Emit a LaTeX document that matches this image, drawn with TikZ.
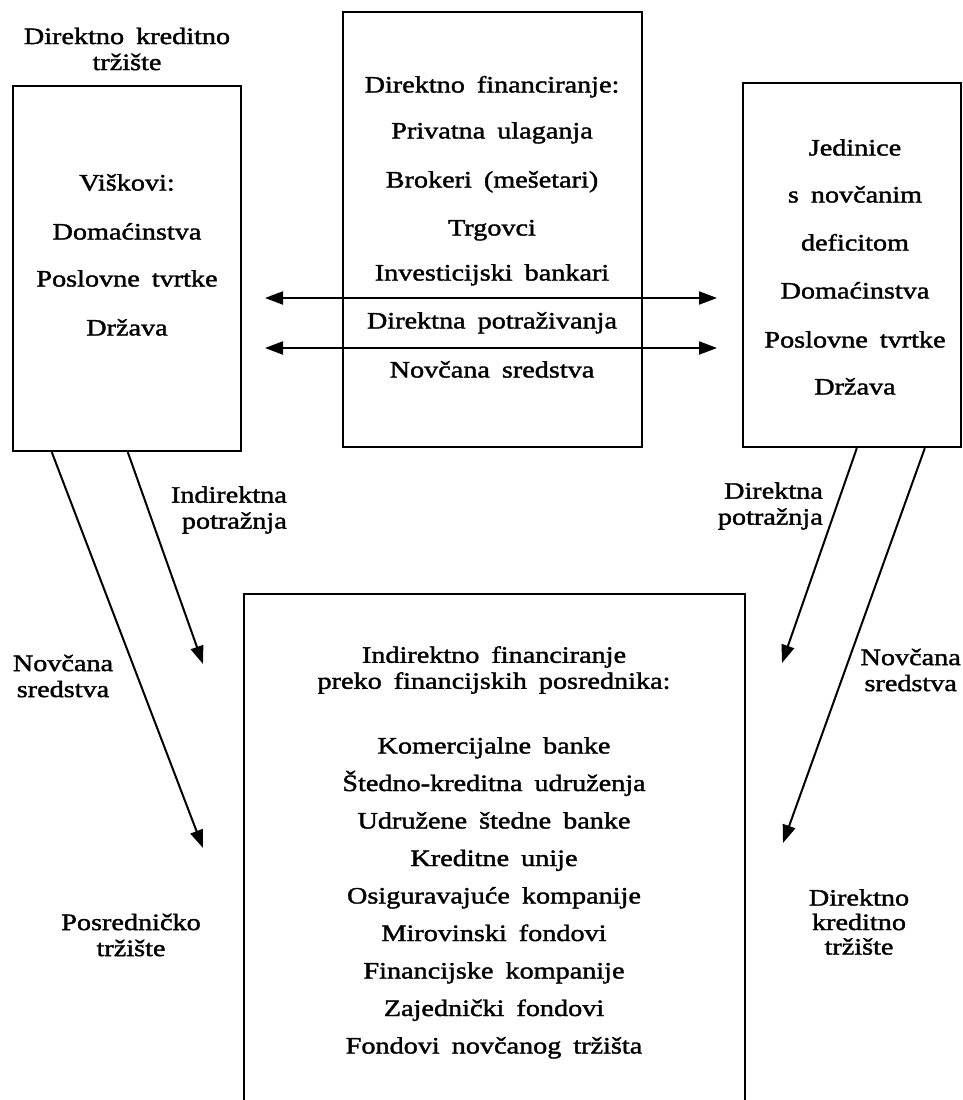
\documentclass[tikz,border=0pt]{standalone}
\usepackage{fontspec}
\setmainfont{Liberation Serif}[FakeStretch=1.2,WordSpace=1.7,FakeBold=1.6]
\usetikzlibrary{arrows.meta}

\begin{document}
\begin{tikzpicture}[x=1pt,y=-1pt,
  font=\fontsize{23.5}{26}\selectfont,
  box/.style={draw, line width=2.4pt, inner sep=0pt},
  txt/.style={inner sep=0pt, text height=16pt, text depth=5pt},
  lbl/.style={inner sep=0pt, align=center},
  arr/.style={line width=2pt, -{Triangle[length=18pt,width=13pt]}},
  darr/.style={line width=2pt, {Triangle[length=18pt,width=13pt]}-{Triangle[length=18pt,width=13pt]}}]
  \useasboundingbox (0,0) rectangle (963,1100);
  \clip (0,0) rectangle (963,1100);

  % Boxes
  \node[box, minimum width=228pt, minimum height=365pt] (surplus) at (127,268.5) {};
  \node[box, minimum width=299pt, minimum height=435pt] (direct) at (492.5,229.5) {};
  \node[box, minimum width=218pt, minimum height=364pt] (deficit) at (852,265) {};
  \node[box, minimum width=501pt, minimum height=608pt] (indirect) at (494.5,898) {};

  % Box texts
  \foreach \t/\y [count=\i] in {Viškovi:/185, Domaćinstva/234, Poslovne tvrtke/281, Država/330}
    \node[txt] (sur\i) at (127,\y) {\t};
  \foreach \t/\y [count=\i] in {Direktno financiranje:/87, Privatna ulaganja/133,
      Brokeri (mešetari)/182, Trgovci/230, Investicijski bankari/275,
      Direktna potraživanja/323, Novčana sredstva/372}
    \node[txt] (dir\i) at (492,\y) {\t};
  \foreach \t/\y [count=\i] in {Jedinice/150, s novčanim/197, deficitom/245,
      Domaćinstva/293, Poslovne tvrtke/342, Država/389}
    \node[txt] (def\i) at (855,\y) {\t};
  \node[lbl] (indhead) at (494,670) {Indirektno financiranje\\preko financijskih posrednika:};
  \foreach \t [count=\i] in {Komercijalne banke, Štedno-kreditna udruženja,
      Udružene štedne banke, Kreditne unije, Osiguravajuće kompanije,
      Mirovinski fondovi, Financijske kompanije, Zajednički fondovi,
      Fondovi novčanog tržišta}
    \node[txt] (ind\i) at (494,{748+37.5*(\i-1)}) {\t};

  % Labels
  \node[lbl] (topmarket) at (127,49) {Direktno kreditno\\tržište};
  \node[lbl, align=right, anchor=east] (inddemand) at (287,510) {Indirektna\\potražnja};
  \node[lbl, align=right, anchor=east] (dirdemand) at (823,506) {Direktna\\potražnja};
  \node[lbl] (fundsleft) at (63,676) {Novčana\\sredstva};
  \node[lbl, anchor=east] (fundsright) at (961,670) {Novčana\\sredstva};
  \node[lbl] (intermarket) at (131,935) {Posredničko\\tržište};
  \node[lbl, font=\fontsize{23.5}{24.5}\selectfont] (dirmarket) at (859,922) {Direktno\\kreditno\\tržište};

  % Flows between boxes
  \coordinate (h1l) at (265,298);
  \coordinate (h1r) at (717,298);
  \coordinate (h2l) at (265,348);
  \coordinate (h2r) at (717,348);
  \draw[darr] (h1l) -- (h1r);
  \draw[darr] (h2l) -- (h2r);

  % Flows to the intermediaries
  \coordinate (s1) at ([xshift=40pt]surplus.south west);
  \coordinate (s2) at ([xshift=116pt]surplus.south west);
  \coordinate (d1) at ([xshift=115pt]deficit.south west);
  \coordinate (d2) at ([xshift=183pt]deficit.south west);
  \coordinate (t1) at (203,848);
  \coordinate (t2) at (203,664);
  \coordinate (t3) at (782,663);
  \coordinate (t4) at (783,843);
  \draw[arr] (s1) -- (t1);
  \draw[arr] (s2) -- (t2);
  \draw[arr] (d1) -- (t3);
  \draw[arr] (d2) -- (t4);
\end{tikzpicture}
\end{document}
